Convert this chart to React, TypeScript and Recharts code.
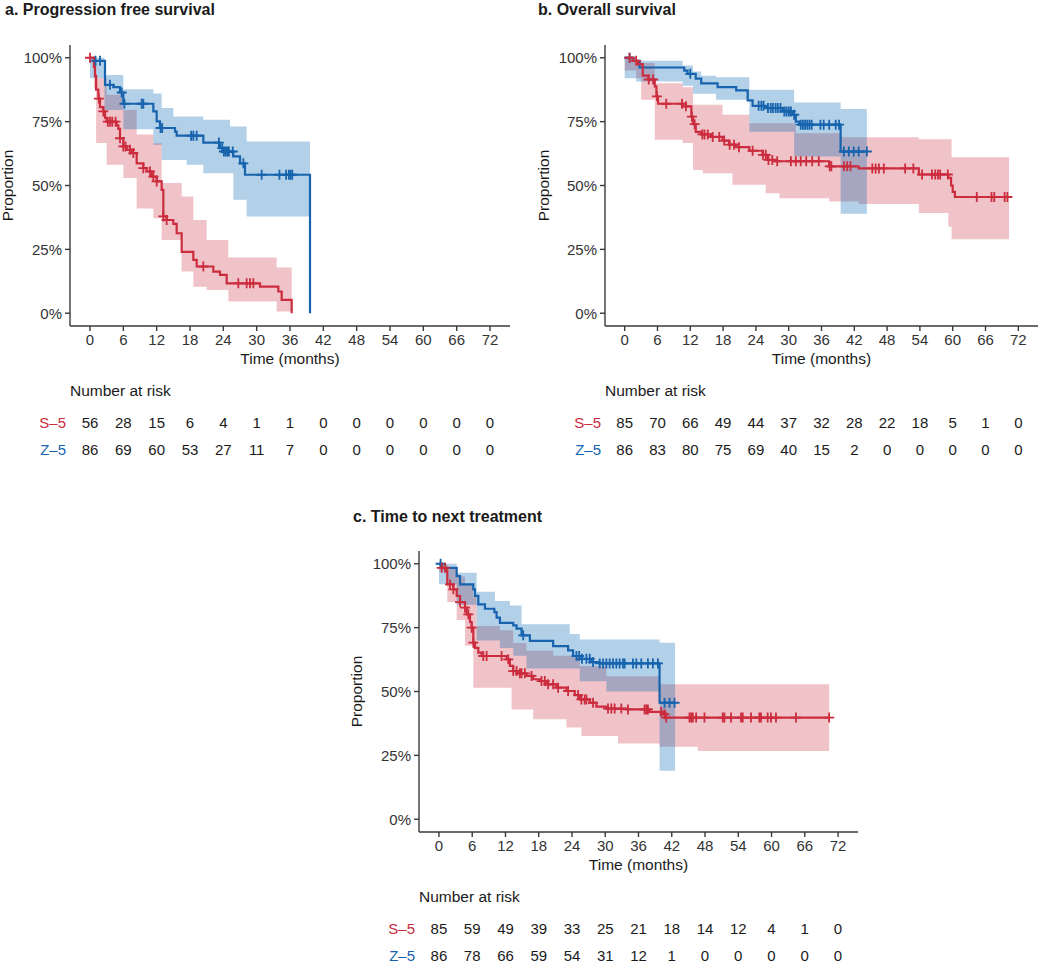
import React from 'react';
import { ComposedChart, Line, Area, Scatter, XAxis, YAxis } from 'recharts';

type Step = [number, number];
type Band = [number, number, number];

const FONT = '"Liberation Sans", Arial, Helvetica, sans-serif';
const RED = '#CB2C3E';
const BLUE = '#1763AD';
const RED_BAND = '#CD3748';
const BLUE_BAND = '#0062B2';
const TEXT = '#1a1a1a';
const TICK_TEXT = '#333333';
const AXIS = '#3a3a3a';

const TIME_TICKS = [0, 6, 12, 18, 24, 30, 36, 42, 48, 54, 60, 66, 72];
const PROP_TICKS = [0, 0.25, 0.5, 0.75, 1];
const GROUPS = ['S\u20135', 'Z\u20135'];
const GROUP_COLORS = [RED, BLUE];

// ---------- a. Progression free survival ----------
const pfsS5Steps: Step[] = [[0, 1], [0.7, 0.964], [0.9, 0.929], [1.1, 0.875], [1.5, 0.84], [1.8, 0.807], [2.4, 0.79], [2.7, 0.765], [3.0, 0.75], [4.8, 0.735], [5.1, 0.722], [5.4, 0.685], [6.0, 0.653], [6.6, 0.64], [7.5, 0.627], [8.4, 0.587], [9.6, 0.568], [10.2, 0.555], [11.1, 0.535], [12.0, 0.516], [12.9, 0.483], [13.2, 0.379], [13.8, 0.365], [15.0, 0.35], [15.6, 0.313], [16.5, 0.24], [18.6, 0.209], [19.2, 0.183], [22.2, 0.163], [23.4, 0.15], [24.6, 0.117], [30.6, 0.104], [33.9, 0.085], [34.5, 0.052], [36.3, 0]];
const pfsS5End = 36.3;
const pfsS5Censor = [0, 1.6, 2.4, 3.2, 3.6, 4.0, 4.6, 5.4, 6.0, 6.4, 7.2, 7.8, 9.6, 10.8, 11.4, 12.0, 13.2, 13.8, 20.4, 26.7, 28.2, 28.8, 29.4];
const pfsS5Band: Band[] = [[0.7, 0.88, 1.0], [1.1, 0.666, 0.92], [3.0, 0.581, 0.855], [6.0, 0.529, 0.796], [8.4, 0.41, 0.7], [11.4, 0.372, 0.665], [12.9, 0.287, 0.51], [16.5, 0.163, 0.457], [18.6, 0.104, 0.365], [21.0, 0.091, 0.287], [24.9, 0.046, 0.218], [33.6, 0.007, 0.179]];

const pfsZ5Steps: Step[] = [[0, 1], [0.7, 0.988], [2.7, 0.894], [4.2, 0.885], [5.4, 0.864], [6.0, 0.82], [11.4, 0.79], [12.0, 0.751], [12.6, 0.725], [15.3, 0.711], [15.6, 0.695], [20.4, 0.668], [23.4, 0.646], [24.0, 0.633], [25.8, 0.614], [27.0, 0.587], [27.9, 0.542], [39.6, 0]];
const pfsZ5End = 39.6;
const pfsZ5Censor = [1.0, 1.8, 3.6, 5.7, 6.2, 9.3, 9.6, 12.7, 13.0, 18.2, 18.6, 19.2, 23.2, 23.8, 24.1, 24.4, 24.7, 25.0, 25.7, 27.6, 30.9, 34.1, 35.3, 35.8, 36.1, 36.4];
const pfsZ5Band: Band[] = [[0, 0.92, 1.0], [2.6, 0.796, 0.933], [6.0, 0.72, 0.877], [11.4, 0.66, 0.86], [12.9, 0.6, 0.803], [15.0, 0.6, 0.77], [17.4, 0.581, 0.77], [20.4, 0.548, 0.757], [25.2, 0.548, 0.731], [25.8, 0.444, 0.731], [28.2, 0.379, 0.672]];

const pfsRiskS5 = [56, 28, 15, 6, 4, 1, 1, 0, 0, 0, 0, 0, 0];
const pfsRiskZ5 = [86, 69, 60, 53, 27, 11, 7, 0, 0, 0, 0, 0, 0];

// ---------- b. Overall survival ----------
const osS5Steps: Step[] = [[0, 1], [1.5, 0.988], [2.4, 0.975], [3.3, 0.93], [4.3, 0.915], [5.5, 0.888], [5.8, 0.849], [6.1, 0.82], [10.6, 0.81], [12.2, 0.77], [12.5, 0.74], [13.0, 0.71], [14.0, 0.7], [15.8, 0.69], [17.9, 0.676], [19.1, 0.66], [20.4, 0.65], [22.8, 0.636], [25.2, 0.62], [26.1, 0.6], [27.6, 0.595], [37.4, 0.575], [42.8, 0.567], [53.8, 0.543], [59.2, 0.53], [59.7, 0.5], [60.0, 0.475], [60.4, 0.455]];
const osS5End = 70.3;
const osS5Censor = [0.9, 2.1, 4.4, 5.2, 5.9, 7.6, 10.5, 11.2, 12.3, 12.8, 14.2, 14.6, 15.2, 16.1, 17.3, 18.2, 19.2, 20.0, 20.9, 23.4, 25.3, 25.8, 26.3, 27.0, 27.9, 30.4, 31.3, 32.2, 33.2, 34.3, 35.5, 37.5, 37.8, 40.1, 40.7, 41.3, 45.3, 45.9, 46.5, 47.4, 51.3, 52.8, 54.4, 56.2, 56.8, 57.3, 57.7, 59.1, 64.4, 67.1, 67.6, 69.5, 70.0];
const osS5Band: Band[] = [[0, 0.95, 1.0], [2.1, 0.92, 0.99], [3.0, 0.836, 0.98], [5.5, 0.679, 0.9], [10.6, 0.666, 0.885], [12.5, 0.561, 0.816], [14.3, 0.548, 0.816], [17.9, 0.548, 0.777], [19.7, 0.503, 0.777], [22.8, 0.503, 0.744], [25.8, 0.47, 0.744], [28.3, 0.45, 0.744], [31.3, 0.45, 0.705], [37.4, 0.437, 0.705], [39.5, 0.437, 0.689], [42.8, 0.428, 0.689], [53.8, 0.392, 0.681], [59.2, 0.339, 0.681], [59.8, 0.29, 0.611]];

const osZ5Steps: Step[] = [[0, 1], [1.5, 0.988], [2.7, 0.962], [10.9, 0.95], [11.5, 0.937], [13.0, 0.918], [14.0, 0.9], [17.0, 0.885], [20.4, 0.872], [22.5, 0.833], [23.4, 0.812], [25.8, 0.803], [28.9, 0.79], [30.7, 0.777], [31.3, 0.75], [31.9, 0.738], [39.5, 0.633]];
const osZ5End = 44.3;
const osZ5Censor = [0.9, 12.0, 24.5, 25.0, 25.4, 26.2, 26.7, 27.1, 27.6, 28.0, 28.5, 29.2, 29.6, 30.0, 30.4, 31.0, 32.2, 32.6, 33.0, 33.4, 33.8, 34.2, 35.8, 36.4, 37.4, 38.6, 39.2, 40.1, 41.0, 41.9, 42.8, 44.3];
const osZ5Band: Band[] = [[0, 0.92, 1.0], [2.1, 0.907, 0.988], [10.6, 0.89, 0.97], [12.5, 0.859, 0.946], [14.0, 0.859, 0.93], [16.7, 0.836, 0.924], [22.8, 0.71, 0.875], [31.0, 0.614, 0.825], [39.5, 0.389, 0.799]];

const osRiskS5 = [85, 70, 66, 49, 44, 37, 32, 28, 22, 18, 5, 1, 0];
const osRiskZ5 = [86, 83, 80, 75, 69, 40, 15, 2, 0, 0, 0, 0, 0];

// ---------- c. Time to next treatment ----------
const ttntS5Steps: Step[] = [[0, 1], [0.5, 0.984], [1.4, 0.971], [1.5, 0.919], [2.6, 0.9], [3.2, 0.874], [3.8, 0.85], [4.7, 0.828], [5.0, 0.802], [5.6, 0.772], [5.9, 0.75], [6.2, 0.691], [6.5, 0.671], [7.1, 0.652], [7.7, 0.639], [12.2, 0.626], [12.8, 0.6], [13.4, 0.58], [14.3, 0.571], [15.8, 0.561], [17.0, 0.548], [18.2, 0.541], [19.4, 0.528], [21.2, 0.515], [23.0, 0.502], [24.5, 0.486], [25.4, 0.469], [27.2, 0.456], [28.4, 0.441], [30.2, 0.433], [33.8, 0.43], [38.0, 0.42], [40.4, 0.411], [40.9, 0.398]];
const ttntS5End = 70.4;
const ttntS5Censor = [0.5, 1.1, 2.0, 2.6, 3.8, 4.7, 5.3, 5.9, 6.2, 8.0, 8.6, 11.3, 12.5, 13.4, 14.0, 14.6, 14.9, 15.5, 16.7, 18.5, 19.1, 19.7, 20.6, 21.5, 23.3, 25.1, 25.7, 26.3, 26.6, 27.8, 30.5, 31.1, 31.7, 32.9, 34.1, 37.1, 37.4, 37.7, 40.1, 40.7, 41.0, 45.2, 45.5, 45.8, 46.4, 47.9, 51.2, 51.5, 52.7, 54.5, 54.8, 56.3, 57.8, 58.1, 59.3, 59.9, 60.8, 64.4, 70.4];
const ttntS5Band: Band[] = [[0, 0.97, 1.0], [1.5, 0.85, 0.98], [3.2, 0.78, 0.95], [4.7, 0.68, 0.92], [6.2, 0.515, 0.87], [6.8, 0.515, 0.756], [11.0, 0.515, 0.74], [13.1, 0.43, 0.74], [13.4, 0.43, 0.69], [15.8, 0.43, 0.66], [17.0, 0.391, 0.66], [20.6, 0.391, 0.64], [23.0, 0.359, 0.64], [25.4, 0.359, 0.6], [25.7, 0.326, 0.6], [30.2, 0.326, 0.56], [32.3, 0.296, 0.56], [39.8, 0.284, 0.528], [46.7, 0.267, 0.528]];

const ttntZ5Steps: Step[] = [[0, 1], [0.5, 0.984], [3.2, 0.952], [3.8, 0.919], [6.2, 0.9], [6.5, 0.874], [7.1, 0.841], [8.3, 0.824], [10.0, 0.811], [10.4, 0.789], [11.0, 0.769], [13.4, 0.759], [14.0, 0.746], [14.9, 0.72], [16.4, 0.698], [20.6, 0.678], [23.3, 0.661], [24.2, 0.639], [25.7, 0.628], [27.5, 0.615], [29.0, 0.61], [39.8, 0.456]];
const ttntZ5End = 42.6;
const ttntZ5Censor = [0.3, 15.2, 24.8, 25.3, 25.8, 26.6, 27.2, 27.8, 29.0, 29.6, 30.2, 30.8, 31.4, 32.0, 32.6, 33.2, 33.5, 35.0, 35.6, 36.5, 37.7, 38.6, 39.5, 40.7, 41.6, 42.5];
const ttntZ5Band: Band[] = [[0, 0.92, 1.0], [3.2, 0.84, 0.965], [6.8, 0.7, 0.89], [10.1, 0.7, 0.854], [11.0, 0.67, 0.854], [12.8, 0.67, 0.837], [13.4, 0.64, 0.837], [14.9, 0.64, 0.763], [15.8, 0.59, 0.763], [23.6, 0.59, 0.725], [25.4, 0.54, 0.704], [30.2, 0.5, 0.704], [39.8, 0.19, 0.691]];

const ttntRiskS5 = [85, 59, 49, 39, 33, 25, 21, 18, 14, 12, 4, 1, 0];
const ttntRiskZ5 = [86, 78, 66, 59, 54, 31, 12, 1, 0, 0, 0, 0, 0];

// ---------- helpers ----------
function stepData(steps: Step[], end: number) {
  const d = steps.map(([t, s]) => ({ t, s }));
  const last = steps[steps.length - 1];
  if (end > last[0]) d.push({ t: end, s: last[1] });
  return d;
}
function bandData(band: Band[], end: number) {
  const d = band.map(([t, lo, hi]) => ({ t, r: [lo, hi] }));
  const last = band[band.length - 1];
  d.push({ t: end, r: [last[1], last[2]] });
  return d;
}
function censorData(times: number[], steps: Step[]) {
  return times.map((t) => {
    let s = 1;
    for (const [st, sv] of steps) if (st <= t) s = sv;
    return { t, s };
  });
}

const PlusShape = (color: string) => (props: any) => {
  const { cx, cy } = props;
  if (cx == null || cy == null) return <g />;
  return <path d={`M${cx - 5},${cy}h10M${cx},${cy - 5}v10`} stroke={color} strokeWidth={1.8} fill="none" />;
};

const PLOT_TOP = 45;
const PLOT_H = 281;
const XAXIS_H = 50;
const X_DOMAIN: [number, number] = [-3.6, 75.6];

type Curve = { steps: Step[]; end: number; censor: number[]; band: Band[]; color: string; bandColor: string };
type PanelCfg = {
  left: number; top: number; width: number; yAxisWidth: number; plotW: number;
  title: string; titleX: number; titleY: number; ylabX: number;
  s5: Curve; z5: Curve; riskS5: number[]; riskZ5: number[];
};

const RiskTick = (props: any) => {
  const { x, y, payload } = props;
  const i = Math.floor(payload.value);
  return (
    <text x={x} y={y} dy="0.355em" textAnchor="end" fill={GROUP_COLORS[i]} fontSize={15} fontFamily={FONT}>
      {GROUPS[i]}
    </text>
  );
};

const RiskNumber = (props: any) => {
  const { cx, cy, payload } = props;
  if (cx == null || cy == null) return <g />;
  return (
    <text x={cx} y={cy} dy="0.355em" textAnchor="middle" fill={TEXT} fontSize={15} fontFamily={FONT}>
      {payload.n}
    </text>
  );
};

function KMPanel({ cfg }: { cfg: PanelCfg }) {
  const { left, top, width, yAxisWidth, plotW, title, titleX, titleY, ylabX, s5, z5, riskS5, riskZ5 } = cfg;
  const rightMargin = width - yAxisWidth - plotW;
  const chartH = PLOT_TOP + PLOT_H + XAXIS_H;
  const plotBottom = PLOT_TOP + PLOT_H;
  const plotCenterX = yAxisWidth + plotW / 2;
  const riskRows = [riskS5, riskZ5].map((arr, gi) =>
    arr.map((n, k) => ({ t: TIME_TICKS[k], row: gi + 0.5, n }))
  );
  return (
    <div style={{ position: 'absolute', left, top, width, height: 470 }}>
      <div style={{ position: 'absolute', left: 0, top: 0 }}>
        <ComposedChart width={width} height={chartH} margin={{ top: PLOT_TOP, right: rightMargin, left: 0, bottom: 0 }}>
          <XAxis
            dataKey="t"
            type="number"
            domain={X_DOMAIN}
            ticks={TIME_TICKS}
            allowDataOverflow
            height={XAXIS_H}
            tickSize={5}
            tickMargin={3}
            stroke={AXIS}
            strokeWidth={1.4}
            tick={{ fill: TICK_TEXT, fontSize: 15, fontFamily: FONT }}
            interval={0}
          />
          <YAxis
            type="number"
            domain={[-0.05, 1.05]}
            ticks={PROP_TICKS}
            allowDataOverflow
            width={yAxisWidth}
            tickSize={5}
            tickMargin={3}
            stroke={AXIS}
            strokeWidth={1.4}
            tick={{ fill: TICK_TEXT, fontSize: 15, fontFamily: FONT }}
            tickFormatter={(v: number) => `${Math.round(v * 100)}%`}
            interval={0}
          />
          <Area data={bandData(s5.band, s5.end)} dataKey="r" type="stepAfter" fill={s5.bandColor} fillOpacity={0.3} stroke="none" isAnimationActive={false} />
          <Area data={bandData(z5.band, z5.end)} dataKey="r" type="stepAfter" fill={z5.bandColor} fillOpacity={0.3} stroke="none" isAnimationActive={false} />
          <Line data={stepData(z5.steps, z5.end)} dataKey="s" type="stepAfter" stroke={z5.color} strokeWidth={2.2} dot={false} isAnimationActive={false} />
          <Line data={stepData(s5.steps, s5.end)} dataKey="s" type="stepAfter" stroke={s5.color} strokeWidth={2.2} dot={false} isAnimationActive={false} />
          <Scatter data={censorData(z5.censor, z5.steps)} dataKey="s" shape={PlusShape(z5.color)} isAnimationActive={false} />
          <Scatter data={censorData(s5.censor, s5.steps)} dataKey="s" shape={PlusShape(s5.color)} isAnimationActive={false} />
        </ComposedChart>
      </div>
      <div style={{ position: 'absolute', left: 0, top: plotBottom + 83 }}>
        <ComposedChart width={width} height={54} margin={{ top: 0, right: rightMargin, left: 0, bottom: 0 }}>
          <XAxis dataKey="t" type="number" domain={X_DOMAIN} hide allowDataOverflow />
          <YAxis
            type="number"
            domain={[0, 2]}
            reversed
            ticks={[0.5, 1.5]}
            width={yAxisWidth}
            axisLine={false}
            tickLine={false}
            tickSize={0}
            tickMargin={4}
            tick={<RiskTick />}
            interval={0}
          />
          {riskRows.map((rows, gi) => (
            <Scatter key={gi} data={rows} dataKey="row" shape={RiskNumber} isAnimationActive={false} />
          ))}
        </ComposedChart>
      </div>
      <svg width={width} height={470} style={{ position: 'absolute', left: 0, top: 0, pointerEvents: 'none' }}>
        <text x={titleX} y={titleY} fontSize={16} fontWeight="bold" fill={TEXT} fontFamily={FONT}>{title}</text>
        <text
          x={ylabX}
          y={PLOT_TOP + PLOT_H / 2}
          transform={`rotate(-90 ${ylabX} ${PLOT_TOP + PLOT_H / 2})`}
          textAnchor="middle"
          fontSize={15.5}
          fill={TEXT}
          fontFamily={FONT}
        >
          Proportion
        </text>
        <text x={plotCenterX} y={plotBottom + 38} textAnchor="middle" fontSize={15.5} fill={TEXT} fontFamily={FONT}>
          Time (months)
        </text>
        <text x={yAxisWidth} y={plotBottom + 70} fontSize={15.5} fill={TEXT} fontFamily={FONT}>
          Number at risk
        </text>
      </svg>
    </div>
  );
}

const mk = (steps: Step[], end: number, censor: number[], band: Band[], isS5: boolean): Curve => ({
  steps, end, censor, band,
  color: isS5 ? RED : BLUE,
  bandColor: isS5 ? RED_BAND : BLUE_BAND,
});

const PANELS: PanelCfg[] = [
  {
    left: 0, top: 0, width: 520, yAxisWidth: 70, plotW: 440,
    title: 'a. Progression free survival', titleX: 5, titleY: 15, ylabX: 13,
    s5: mk(pfsS5Steps, pfsS5End, pfsS5Censor, pfsS5Band, true),
    z5: mk(pfsZ5Steps, pfsZ5End, pfsZ5Censor, pfsZ5Band, false),
    riskS5: pfsRiskS5, riskZ5: pfsRiskZ5,
  },
  {
    left: 520, top: 0, width: 520, yAxisWidth: 85, plotW: 433,
    title: 'b. Overall survival', titleX: 18, titleY: 15, ylabX: 29,
    s5: mk(osS5Steps, osS5End, osS5Censor, osS5Band, true),
    z5: mk(osZ5Steps, osZ5End, osZ5Censor, osZ5Band, false),
    riskS5: osRiskS5, riskZ5: osRiskZ5,
  },
  {
    left: 340, top: 506, width: 520, yAxisWidth: 79, plotW: 439,
    title: 'c. Time to next treatment', titleX: 13, titleY: 16, ylabX: 22,
    s5: mk(ttntS5Steps, ttntS5End, ttntS5Censor, ttntS5Band, true),
    z5: mk(ttntZ5Steps, ttntZ5End, ttntZ5Censor, ttntZ5Band, false),
    riskS5: ttntRiskS5, riskZ5: ttntRiskZ5,
  },
];

export default function App() {
  return (
    <div style={{ position: 'relative', width: 1050, height: 965, background: '#fff', overflow: 'hidden', fontFamily: FONT }}>
      <style>{'body{margin:0;background:#fff;}'}</style>
      {PANELS.map((p, i) => (
        <KMPanel key={i} cfg={p} />
      ))}
    </div>
  );
}
